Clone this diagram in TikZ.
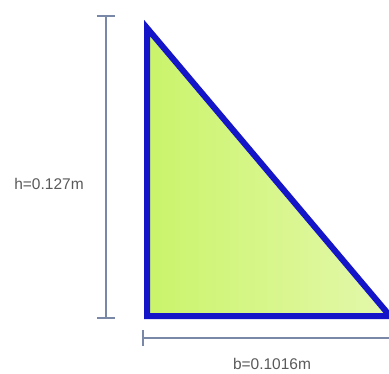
\documentclass[tikz,border=0pt]{standalone}
\usepackage{fontspec}
\setmainfont{Liberation Sans}
\begin{document}
\begin{tikzpicture}[x=1pt,y=-1pt,
  dim/.style={draw=dimcol, line width=1.8pt},
  lbl/.style={text=labcol, font=\fontsize{15.5}{17}\selectfont, inner sep=0pt},
  tri/.style={draw=tricol, line width=6pt, line join=miter, left color=fillL, right color=fillR}]
\definecolor{dimcol}{HTML}{7A88A8}
\definecolor{labcol}{HTML}{5A5A5A}
\definecolor{tricol}{HTML}{1414C8}
\definecolor{fillL}{HTML}{CAF46A}
\definecolor{fillR}{HTML}{E4F8AC}
\useasboundingbox (0,0) rectangle (389,373);
\fill[white] (0,0) rectangle (389,373);
% triangle
\coordinate (A) at (147,28);
\coordinate (B) at (147,316);
\coordinate (C) at (390,316);
\path[tri] (A) -- (B) -- (C) -- cycle;
% vertical dimension
\coordinate (vt) at (106,16);
\coordinate (vb) at (106,318);
\coordinate (vtl) at (97,16);
\coordinate (vtr) at (115,16);
\coordinate (vbl) at (97,318);
\coordinate (vbr) at (115,318);
\draw[dim] (vt) -- (vb);
\draw[dim] (vtl) -- (vtr);
\draw[dim] (vbl) -- (vbr);
% horizontal dimension
\coordinate (hl) at (143,338);
\coordinate (hr) at (392,338);
\coordinate (hlt) at (143,330);
\coordinate (hlb) at (143,346);
\draw[dim] (hl) -- (hr);
\draw[dim] (hlt) -- (hlb);
% labels
\node[lbl] (h) at (49,184) {h=0.127m};
\node[lbl] (b) at (272,364) {b=0.1016m};
\end{tikzpicture}
\end{document}
